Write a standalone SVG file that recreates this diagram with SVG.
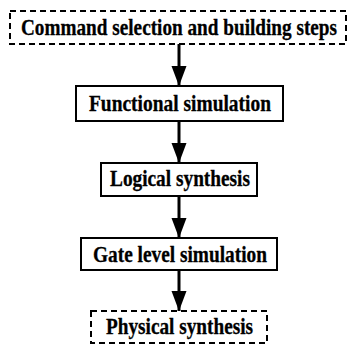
<svg xmlns="http://www.w3.org/2000/svg" width="350" height="345" viewBox="0 0 350 345">
<defs>
<style>
.box{fill:#fff;stroke:#000;stroke-width:2}
.dash{stroke-dasharray:6 4}
.lbl{font-family:"Liberation Serif","Times New Roman",serif;font-weight:bold;font-size:23px;fill:#000;stroke:#000;stroke-width:0.3}
.conn{stroke:#000;stroke-width:3;fill:none}
</style>
<marker id="ah" markerUnits="userSpaceOnUse" markerWidth="22" markerHeight="16" refX="20" refY="7.5" orient="auto">
<path d="M0,0 L20,7.5 L0,15 Z" fill="#000"/>
</marker>
</defs>
<rect width="350" height="345" fill="#fff"/>
<g id="connectors">
<line class="conn" x1="179" y1="44" x2="179" y2="86" marker-end="url(#ah)"/>
<line class="conn" x1="179" y1="121" x2="179" y2="163" marker-end="url(#ah)"/>
<line class="conn" x1="179" y1="196" x2="179" y2="238" marker-end="url(#ah)"/>
<line class="conn" x1="179" y1="270" x2="179" y2="311" marker-end="url(#ah)"/>
</g>
<g id="n1">
<rect class="box dash" x="10" y="11" width="336" height="33"/>
<text class="lbl" x="21" y="35" textLength="316" lengthAdjust="spacingAndGlyphs">Command selection and building steps</text>
</g>
<g id="n2">
<rect class="box" x="76" y="86" width="207" height="35"/>
<text class="lbl" x="89" y="111" textLength="182" lengthAdjust="spacingAndGlyphs">Functional simulation</text>
</g>
<g id="n3">
<rect class="box" x="101" y="163" width="156" height="33"/>
<text class="lbl" x="110" y="186" textLength="140" lengthAdjust="spacingAndGlyphs">Logical synthesis</text>
</g>
<g id="n4">
<rect class="box" x="81" y="238" width="196" height="32"/>
<text class="lbl" x="93" y="262" textLength="174" lengthAdjust="spacingAndGlyphs">Gate level simulation</text>
</g>
<g id="n5">
<rect class="box dash" x="91" y="311" width="176" height="32"/>
<text class="lbl" x="106" y="334" textLength="147" lengthAdjust="spacingAndGlyphs">Physical synthesis</text>
</g>
</svg>
